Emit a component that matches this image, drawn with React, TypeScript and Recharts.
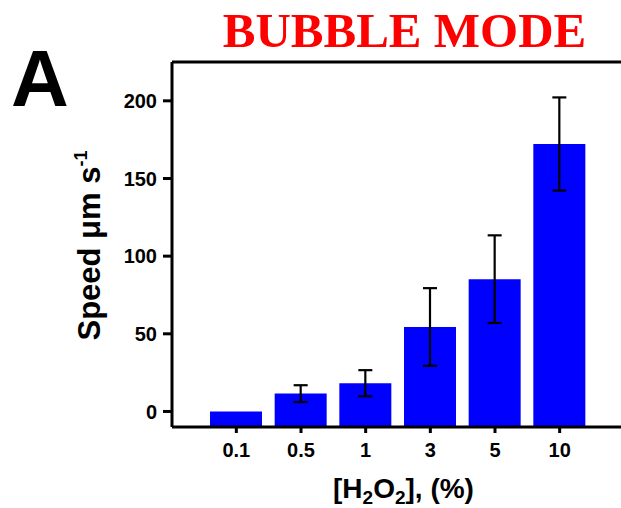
import React from "react";
import { BarChart, Bar, XAxis, YAxis, ErrorBar, ReferenceLine } from "recharts";

const categories = ["0.1", "0.5", "1", "3", "5", "10"];
const speed = [0, 11.5, 18.2, 54.4, 85.2, 172.2];
const speedErr = [0, 5.4, 8.4, 25, 28.2, 30];
const yTicks = [0, 50, 100, 150, 200];
const Y_MIN = -10;
const Y_MAX = 225;

const data = categories.map((c, i) => ({ cat: c, speed: speed[i], err: speedErr[i] }));

const FONT = "'Liberation Sans', Arial, Helvetica, sans-serif";

const XLabel = (props: any) => {
  const vb = props.viewBox || {};
  const cx = vb.x + vb.width / 2 + 7;
  return (
    <text x={cx} y={498} textAnchor="middle" fontFamily={FONT} fontWeight="bold" fontSize={28} fill="#000">
      <tspan>[H</tspan>
      <tspan fontSize={19} dy={6}>2</tspan>
      <tspan dy={-6}>O</tspan>
      <tspan fontSize={19} dy={6}>2</tspan>
      <tspan dy={-6}>], (%)</tspan>
    </text>
  );
};

const YLabel = (props: any) => {
  const vb = props.viewBox || {};
  const cy = vb.y + vb.height / 2 + 1;
  const x = 100;
  return (
    <text
      x={x}
      y={cy}
      transform={`rotate(-90, ${x}, ${cy})`}
      textAnchor="middle"
      fontFamily={FONT}
      fontWeight="bold"
      fontSize={31}
      fill="#000"
    >
      <tspan>Speed μm s</tspan>
      <tspan fontSize={18} dy={-13}>-1</tspan>
    </text>
  );
};

export default function App() {
  return (
    <div style={{ position: "absolute", left: 0, top: 0, width: 621, height: 508, background: "#fff" }}>
      <BarChart
        width={621}
        height={508}
        data={data}
        margin={{ top: 62, right: 0, bottom: 0, left: 0 }}
        barSize={52}
      >
        <XAxis
          dataKey="cat"
          height={81}
          interval={0}
          padding={{ left: 32, right: 29 }}
          tickSize={6}
          tickMargin={10}
          axisLine={{ stroke: "#000", strokeWidth: 3 }}
          tickLine={{ stroke: "#000", strokeWidth: 3 }}
          tick={{ fill: "#000", fontSize: 20, fontWeight: "bold", fontFamily: FONT }}
          label={<XLabel />}
        />
        <YAxis
          width={172}
          domain={[Y_MIN, Y_MAX]}
          ticks={yTicks}
          allowDataOverflow
          tickSize={9}
          tickMargin={6}
          axisLine={{ stroke: "#000", strokeWidth: 3 }}
          tickLine={{ stroke: "#000", strokeWidth: 3 }}
          tick={{ fill: "#000", fontSize: 20, fontWeight: "bold", fontFamily: FONT }}
          label={<YLabel />}
        />
        <ReferenceLine y={Y_MAX} stroke="#000" strokeWidth={3} />
        <Bar dataKey={(d: any) => [Y_MIN, d.speed]} fill="#0000ff" isAnimationActive={false}>
          <ErrorBar dataKey="err" width={7} strokeWidth={2.2} stroke="#000" direction="y" />
        </Bar>
      </BarChart>
      <svg
        width={621}
        height={508}
        style={{ position: "absolute", left: 0, top: 0, pointerEvents: "none" }}
      >
        <text
          x={404.5}
          y={47}
          textAnchor="middle"
          fontFamily="'Liberation Serif', 'Times New Roman', serif"
          fontWeight="bold"
          fontSize={49}
          fill="#ff0000"
        >
          BUBBLE MODE
        </text>
        <text x={11} y={106} fontFamily={FONT} fontWeight="bold" fontSize={80} fill="#000">
          A
        </text>
      </svg>
    </div>
  );
}
